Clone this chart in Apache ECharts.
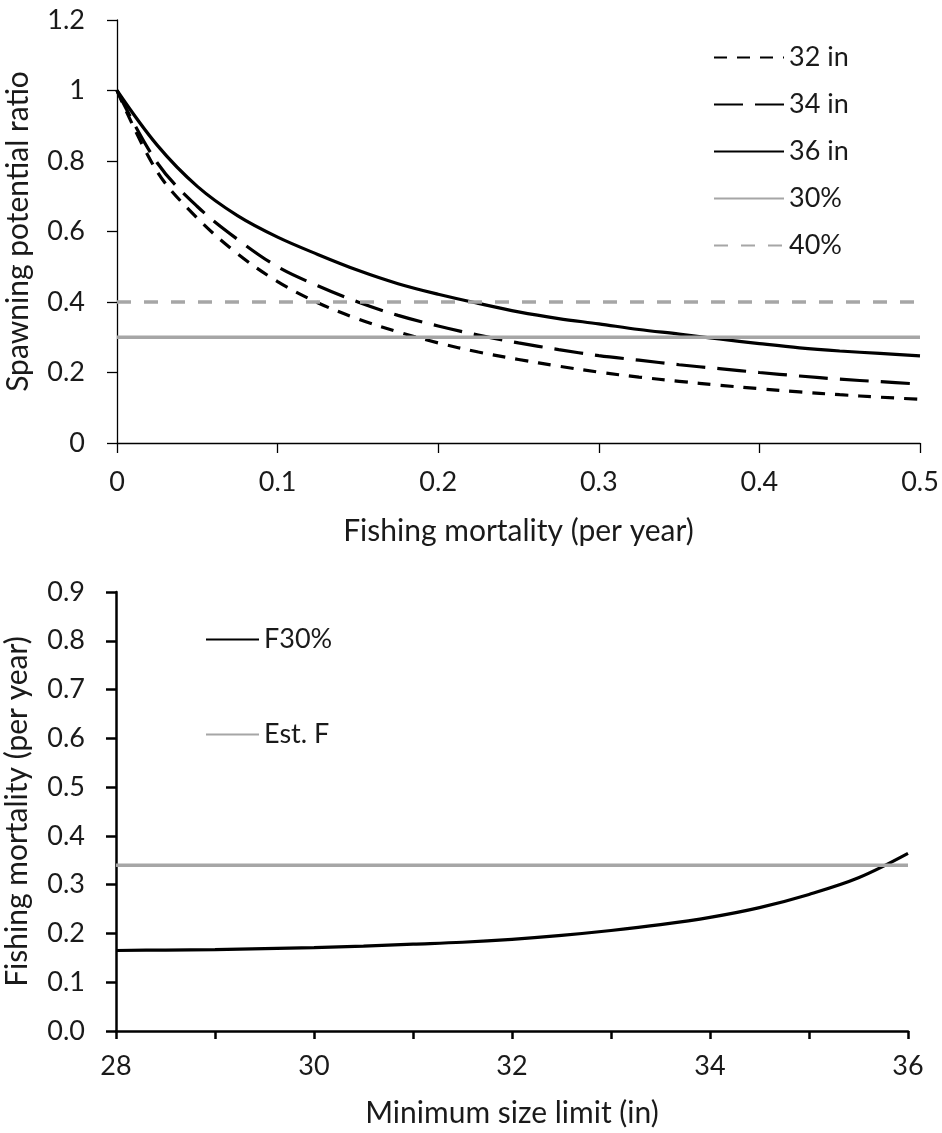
<!DOCTYPE html>
<html>
<head>
<meta charset="utf-8">
<script src="https://cdn.jsdelivr.net/npm/echarts@6/dist/echarts.min.js"></script>
<style>
  html, body { margin: 0; padding: 0; background: #fff; }
  #chart { width: 942px; height: 1133px; }
</style>
</head>
<body>
<div id="chart"></div>
<script>
// top panel: spawning potential ratio vs fishing mortality
var fishingF = [0, 0.025, 0.05, 0.075, 0.1, 0.125, 0.15, 0.175, 0.2, 0.225, 0.25,
                0.275, 0.3, 0.325, 0.35, 0.375, 0.4, 0.425, 0.45, 0.475, 0.5];
var spr32 = [1.0, 0.77, 0.638, 0.537, 0.458, 0.398, 0.352, 0.315, 0.284, 0.258, 0.237,
             0.218, 0.201, 0.187, 0.175, 0.164, 0.154, 0.145, 0.137, 0.130, 0.124];
var spr34 = [1.0, 0.795, 0.671, 0.578, 0.50, 0.446, 0.400, 0.362, 0.332, 0.306, 0.284,
             0.265, 0.248, 0.235, 0.222, 0.211, 0.200, 0.190, 0.181, 0.174, 0.167];
var spr36 = [1.0, 0.845, 0.728, 0.645, 0.584, 0.535, 0.490, 0.452, 0.422, 0.396, 0.372,
             0.353, 0.338, 0.322, 0.309, 0.295, 0.282, 0.270, 0.261, 0.254, 0.247];
var refLevels = [0.3, 0.4];   // 30% and 40% SPR
var topNames = ['32 in', '34 in', '36 in', '30%', '40%'];

// bottom panel: F30% vs minimum size limit
var sizeLimit = [28, 28.5, 29, 29.5, 30, 30.5, 31, 31.5, 32, 32.5, 33, 33.5, 34, 34.5, 35, 35.5, 36];
var f30 = [0.165, 0.166, 0.167, 0.169, 0.171, 0.174, 0.178, 0.182, 0.188, 0.196, 0.206,
           0.218, 0.233, 0.253, 0.280, 0.314, 0.364];
var estF = 0.34;
var bottomNames = ['F30%', 'Est. F'];

var FONT = 'Lato';
var TXT = '#1a1a1a';
var GRAY = '#a6a6a6';

function pairs(xs, ys) {
    return xs.map(function (x, i) { return [x, ys[i]]; });
}

var chart = echarts.init(document.getElementById('chart'));

var titleStyle = { fontFamily: FONT, fontSize: 30, color: TXT };

var option = {
    animation: false,
    textStyle: { fontFamily: FONT, color: TXT },
    grid: [
        { left: 117, top: 20, width: 803, height: 423, outerBoundsMode: 'none', containLabel: false },
        { left: 116, top: 592, width: 792, height: 439, outerBoundsMode: 'none', containLabel: false }
    ],
    legend: [
        {
            data: topNames,
            orient: 'vertical',
            left: 708,
            top: 39,
            itemWidth: 70,
            itemHeight: 14,
            itemGap: 20,
            itemStyle: { opacity: 0 },
            textStyle: { fontFamily: FONT, fontSize: 27, color: TXT }
        },
        {
            data: bottomNames,
            orient: 'vertical',
            left: 200,
            top: 621,
            itemWidth: 53,
            itemHeight: 14,
            itemGap: 68,
            itemStyle: { opacity: 0 },
            textStyle: { fontFamily: FONT, fontSize: 27, color: TXT }
        }
    ],
    xAxis: [
        {
            gridIndex: 0,
            type: 'value',
            min: 0,
            max: 0.5,
            interval: 0.1,
            name: 'Fishing mortality (per year)',
            nameLocation: 'middle',
            nameGap: 73,
            nameTextStyle: titleStyle,
            axisLine: { lineStyle: { color: '#000', width: 1.3 } },
            axisTick: { length: 10, lineStyle: { color: '#000', width: 1.3 } },
            axisLabel: { fontFamily: FONT, fontSize: 27, color: TXT, margin: 26 },
            splitLine: { show: false }
        },
        {
            gridIndex: 1,
            type: 'value',
            min: 28,
            max: 36,
            interval: 1,
            name: 'Minimum size limit (in)',
            nameLocation: 'middle',
            nameGap: 67,
            nameTextStyle: titleStyle,
            axisLine: { lineStyle: { color: '#000', width: 2.5 } },
            axisTick: { length: 8, lineStyle: { color: '#000', width: 2.5 } },
            axisLabel: {
                fontFamily: FONT, fontSize: 27, color: TXT, margin: 22,
                formatter: function (v) { return v % 2 === 0 ? String(v) : ''; }
            },
            splitLine: { show: false }
        }
    ],
    yAxis: [
        {
            gridIndex: 0,
            type: 'value',
            min: 0,
            max: 1.2,
            interval: 0.2,
            name: 'Spawning potential ratio',
            nameLocation: 'middle',
            nameGap: 84,
            nameTextStyle: titleStyle,
            axisLine: { show: true, lineStyle: { color: '#000', width: 1.3 } },
            axisTick: { show: true, length: 10, lineStyle: { color: '#000', width: 1.3 } },
            axisLabel: { fontFamily: FONT, fontSize: 27, color: TXT, margin: 32 },
            splitLine: { show: false }
        },
        {
            gridIndex: 1,
            type: 'value',
            min: 0,
            max: 0.9,
            interval: 0.1,
            name: 'Fishing mortality (per year)',
            nameLocation: 'middle',
            nameGap: 84,
            nameTextStyle: titleStyle,
            axisLine: { show: true, lineStyle: { color: '#000', width: 2.5 } },
            axisTick: { show: true, length: 10, lineStyle: { color: '#000', width: 2.5 } },
            axisLabel: {
                fontFamily: FONT, fontSize: 27, color: TXT, margin: 31,
                formatter: function (v) { return v.toFixed(1); }
            },
            splitLine: { show: false }
        }
    ],
    series: [
        {
            name: '32 in', type: 'line', xAxisIndex: 0, yAxisIndex: 0,
            data: pairs(fishingF, spr32), smooth: 0.35,
            symbol: 'none', color: '#000',
            lineStyle: { color: '#000', width: 3.2, type: [13, 10] }
        },
        {
            name: '34 in', type: 'line', xAxisIndex: 0, yAxisIndex: 0,
            data: pairs(fishingF, spr34), smooth: 0.35,
            symbol: 'none', color: '#000',
            lineStyle: { color: '#000', width: 3.2, type: [29, 12] }
        },
        {
            name: '36 in', type: 'line', xAxisIndex: 0, yAxisIndex: 0,
            data: pairs(fishingF, spr36), smooth: 0.35,
            symbol: 'none', color: '#000',
            lineStyle: { color: '#000', width: 3.2 }
        },
        {
            name: '30%', type: 'line', xAxisIndex: 0, yAxisIndex: 0,
            data: [[0, refLevels[0]], [0.5, refLevels[0]]],
            symbol: 'none', color: GRAY,
            lineStyle: { color: GRAY, width: 3.5 }
        },
        {
            name: '40%', type: 'line', xAxisIndex: 0, yAxisIndex: 0,
            data: [[0, refLevels[1]], [0.5, refLevels[1]]],
            symbol: 'none', color: GRAY,
            lineStyle: { color: GRAY, width: 3.5, type: [14, 13] }
        },
        {
            name: 'F30%', type: 'line', xAxisIndex: 1, yAxisIndex: 1,
            data: pairs(sizeLimit, f30), smooth: 0.35,
            symbol: 'none', color: '#000',
            lineStyle: { color: '#000', width: 3.2 }
        },
        {
            name: 'Est. F', type: 'line', xAxisIndex: 1, yAxisIndex: 1,
            data: [[28, estF], [36, estF]],
            symbol: 'none', color: GRAY,
            lineStyle: { color: GRAY, width: 3.5 }
        }
    ]
};

chart.setOption(option);
</script>
</body>
</html>
